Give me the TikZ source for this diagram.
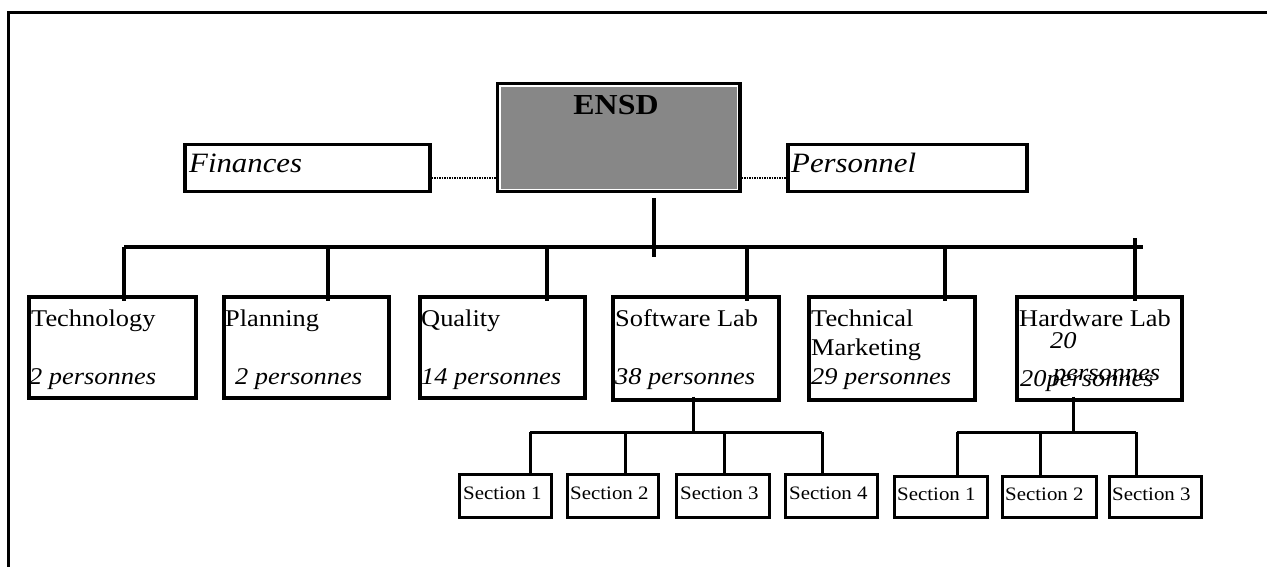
\documentclass[tikz,border=0pt]{standalone}
\usepackage{fontspec}
\usetikzlibrary{calc}
\newfontfamily\tf[FakeStretch=1.1]{Liberation Serif}
\definecolor{ensdgray}{RGB}{135,135,135}
\tikzset{
  box/.style={draw=black, line width=3.5pt, inner sep=0pt, anchor=north west},
  secbox/.style={draw=black, line width=2.5pt, inner sep=0pt, anchor=north west},
  conn/.style={draw=black, line width=3.5pt},
  subconn/.style={draw=black, line width=3pt},
  dotline/.style={draw=black, line width=1.5pt, densely dotted},
  dtext/.style={anchor=base west, inner sep=0pt, font=\tf\fontsize{24}{24}\selectfont},
  itext/.style={anchor=base west, inner sep=0pt, font=\tf\itshape\fontsize{24}{24}\selectfont},
  btext/.style={anchor=base west, inner sep=0pt, font=\tf\itshape\fontsize{28}{28}\selectfont},
  stext/.style={anchor=base west, inner sep=0pt, font=\tf\fontsize{19}{19}\selectfont},
}
\begin{document}
\begin{tikzpicture}[x=1pt,y=-1pt]
\useasboundingbox (0,0) rectangle (1267,567);
% outer frame (top and left)
\coordinate (fbl) at (8,567);
\coordinate (ftl) at (8,13);
\coordinate (ftr) at (1267,13);
\draw[line width=3pt] (fbl) -- (ftl) -- (ftr);

% top boxes
\node[box, fill=ensdgray, minimum width=242pt, minimum height=108pt] (ensd) at (496,82) {};
\draw[white, line width=1.5pt] ([xshift=4pt,yshift=-4pt]ensd.north west) rectangle ([xshift=-4pt,yshift=4pt]ensd.south east);
\node[anchor=base, inner sep=0pt, font=\tf\bfseries\fontsize{29}{29}\selectfont] (ensdt) at (616,115) {ENSD};

\node[box, minimum width=245pt, minimum height=47pt] (fin) at (183,143) {};
\node[btext] (fint) at (189,173) {Finances};
\node[box, minimum width=239pt, minimum height=47pt] (pers) at (786,143) {};
\node[btext] (perst) at (791,173) {Personnel};

\coordinate (dl) at (0,178);
\draw[dotline] (fin.east |- dl) -- (ensd.west |- dl);
\draw[dotline] (ensd.east |- dl) -- (pers.west |- dl);

% departments
\node[box, minimum width=167pt, minimum height=101pt] (tech) at (27,295) {};
\node[box, minimum width=165pt, minimum height=101pt] (plan) at (222,295) {};
\node[box, minimum width=165pt, minimum height=101pt] (qual) at (418,295) {};
\node[box, minimum width=166pt, minimum height=103pt] (soft) at (611,295) {};
\node[box, minimum width=166pt, minimum height=103pt] (tmkt) at (807,295) {};
\node[box, minimum width=165pt, minimum height=103pt] (hw) at (1015,295) {};

\node[dtext] (techt) at (31,326) {Technology};
\node[itext] (techp) at (29,384) {2 personnes};
\node[dtext] (plant) at (225,326) {Planning};
\node[itext] (planp) at (235,384) {2 personnes};
\node[dtext] (qualt) at (421,326) {Quality};
\node[itext] (qualp) at (421,384) {14 personnes};
\node[dtext] (softt) at (615,326) {Software Lab};
\node[itext] (softp) at (615,384) {38 personnes};
\node[dtext] (tmktt) at (811,326) {Technical};
\node[dtext] (tmktm) at (811,355) {Marketing};
\node[itext] (tmktp) at (811,384) {29 personnes};
\node[dtext] (hwt) at (1019,326) {Hardware Lab};
\node[itext] (hw20) at (1050,348) {20};
\node[itext] (hwpa) at (1053,380) {personnes};
\node[itext] (hwpb) at (1020,386) {20personnes};

% main stem and bus
\coordinate (stemtop) at (654,198);
\coordinate (stembot) at (654,257);
\draw[conn] (stemtop) -- (stembot);
\coordinate (busl) at (124,247);
\coordinate (busr) at (1143,247);
\draw[conn] (busl) -- (busr);
\coordinate (d1) at (124,247);
\coordinate (d2) at (328,247);
\coordinate (d3) at (547,247);
\coordinate (d4) at (747,247);
\coordinate (d5) at (945,247);
\coordinate (d6) at (1135,238);
\draw[conn] (d1) -- ([yshift=-6pt]d1 |- tech.north);
\draw[conn] (d2) -- ([yshift=-6pt]d2 |- plan.north);
\draw[conn] (d3) -- ([yshift=-6pt]d3 |- qual.north);
\draw[conn] (d4) -- ([yshift=-6pt]d4 |- soft.north);
\draw[conn] (d5) -- ([yshift=-6pt]d5 |- tmkt.north);
\draw[conn] (d6) -- ([yshift=-6pt]d6 |- hw.north);

% software sections
\node[secbox, minimum width=92pt, minimum height=43pt] (s1) at (458,473) {};
\node[secbox, minimum width=91pt, minimum height=43pt] (s2) at (566,473) {};
\node[secbox, minimum width=93pt, minimum height=43pt] (s3) at (675,473) {};
\node[secbox, minimum width=92pt, minimum height=43pt] (s4) at (784,473) {};
\node[stext] (s1t) at (463,499) {Section 1};
\node[stext] (s2t) at (570,499) {Section 2};
\node[stext] (s3t) at (680,499) {Section 3};
\node[stext] (s4t) at (789,499) {Section 4};

\coordinate (sb) at (693,432);
\draw[subconn] ([yshift=5pt]soft.south -| sb) -- (sb);
\coordinate (sbl) at (530,432);
\coordinate (sbr) at (822,432);
\draw[subconn] (sbl) -- (sbr);
\coordinate (e1) at (530,432);
\coordinate (e2) at (625,432);
\coordinate (e3) at (724,432);
\coordinate (e4) at (822,432);
\draw[subconn] (e1) -- (e1 |- s1.north);
\draw[subconn] (e2) -- (e2 |- s2.north);
\draw[subconn] (e3) -- (e3 |- s3.north);
\draw[subconn] (e4) -- (e4 |- s4.north);

% hardware sections
\node[secbox, minimum width=93pt, minimum height=41pt] (h1) at (893,475) {};
\node[secbox, minimum width=94pt, minimum height=41pt] (h2) at (1001,475) {};
\node[secbox, minimum width=92pt, minimum height=41pt] (h3) at (1108,475) {};
\node[stext] (h1t) at (897,500) {Section 1};
\node[stext] (h2t) at (1005,500) {Section 2};
\node[stext] (h3t) at (1112,500) {Section 3};

\coordinate (hb) at (1073,432);
\draw[subconn] ([yshift=5pt]hw.south -| hb) -- (hb);
\coordinate (hbl) at (957,432);
\coordinate (hbr) at (1136,432);
\draw[subconn] (hbl) -- (hbr);
\coordinate (g1) at (957,432);
\coordinate (g2) at (1040,432);
\coordinate (g3) at (1136,432);
\draw[subconn] (g1) -- (g1 |- h1.north);
\draw[subconn] (g2) -- (g2 |- h2.north);
\draw[subconn] (g3) -- (g3 |- h3.north);
\end{tikzpicture}
\end{document}
